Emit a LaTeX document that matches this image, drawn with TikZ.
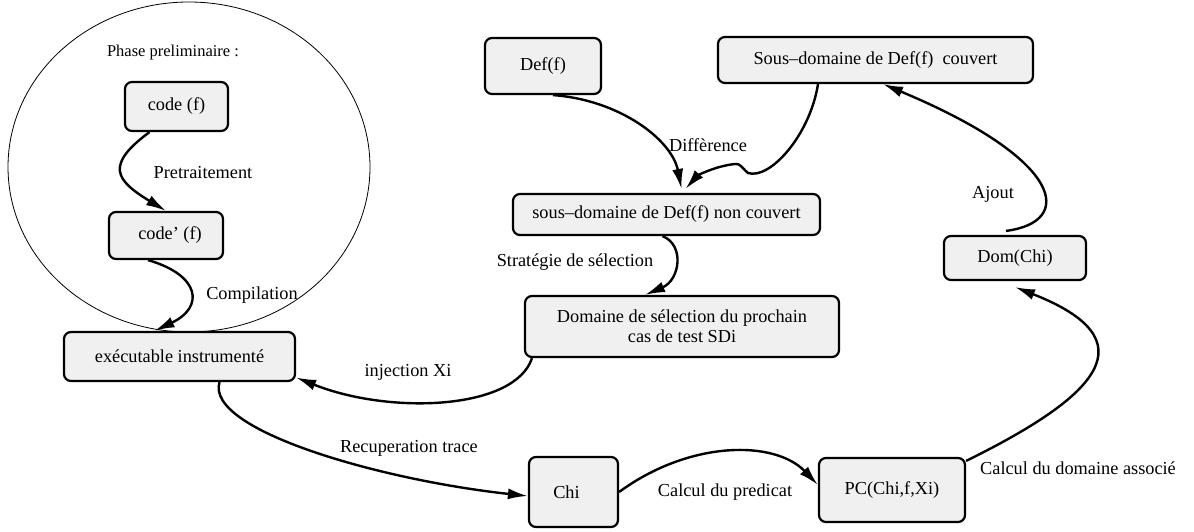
\documentclass[tikz,border=0pt]{standalone}
\usepackage{fontspec}
\setmainfont{Liberation Serif}
\usetikzlibrary{arrows.meta,shapes.geometric}
\definecolor{boxfill}{RGB}{240,240,240}
\newcommand{\mainsz}{\fontsize{18.3}{21}\selectfont}
\newcommand{\smallsz}{\fontsize{16.5}{19}\selectfont}
\tikzset{
  box/.style={draw, rounded corners=7pt, fill=boxfill, line width=2.2pt,
              font=\mainsz, inner sep=2pt, align=center},
  conn/.style={line width=2.4pt, -{Latex[length=20pt,width=11pt]}},
  lbl/.style={font=\mainsz, inner sep=0pt},
}
\begin{document}
\begin{tikzpicture}[x=1pt,y=-1pt]
\fill[white] (0,0) rectangle (1194,532);
\useasboundingbox (0,0) rectangle (1194,532);

% preliminary phase enclosure
\node[draw, ellipse, line width=0.8pt, minimum width=362pt, minimum height=330pt, inner sep=0pt] (phase) at (189,167) {};
\node[font=\smallsz, inner sep=0pt] (phaselbl) at (173,53) {Phase preliminaire :};

% boxes
\node[box, minimum width=103pt, minimum height=49pt] (code)  at (176.5,106.5) {code (f)};
\node[box, minimum width=114pt, minimum height=47pt] (codep) at (166,235.5) {\hspace*{8pt}code’ (f)};
\node[box, minimum width=231pt, minimum height=49pt] (exec)  at (179.5,356.5) {exécutable instrumenté};
\node[box, minimum width=116pt, minimum height=56pt] (def)   at (543,66) {Def(f)};
\node[box, minimum width=315pt, minimum height=46pt] (couv)  at (875.5,60) {Sous–domaine de Def(f)~ couvert};
\node[box, minimum width=307pt, minimum height=41pt] (nc)    at (666.5,214.5) {sous–domaine de Def(f) non couvert};
\node[box, minimum width=314pt, minimum height=61pt] (dsel)  at (682,326.5) {\raisebox{-6pt}{\shortstack{Domaine de sélection du prochain\\cas de test SDi}}};
\node[box, minimum width=142pt, minimum height=44pt] (dom)   at (1015,258) {Dom(Chi)};
\node[box, minimum width=89pt,  minimum height=70pt] (chi)   at (573.5,492) {Chi\hspace*{14pt}};
\node[box, minimum width=146pt, minimum height=64pt] (pc)    at (892,490) {PC(Chi,f,Xi)};

% connectors
\draw[conn] ([xshift=-27pt]code.south) .. controls (105,165) and (115,180) .. (codep.north);
\draw[conn] ([xshift=-18pt]codep.south) .. controls (200,275) and (205,307) .. ([xshift=-25pt]exec.north);
\draw[conn] ([xshift=40pt]exec.south) .. controls (205,430) and (380,480) .. ([yshift=-4pt]chi.west);
\draw[conn] ([xshift=-150pt]dsel.south) .. controls (515,410) and (390,415) .. ([yshift=-21pt]exec.east);
\draw[conn] ([xshift=-4pt]nc.south) .. controls (685,245) and (680,280) .. ([xshift=-37pt]dsel.north);
\draw[conn] ([xshift=10pt]def.south) .. controls (620,100) and (672,140) .. ([xshift=15pt,yshift=4pt]nc.north);
\draw[conn] ([xshift=-57.5pt]couv.south) .. controls (810,135) and (770,180) .. (748,173)
  .. controls (742,168) and (740,163) .. (735,164)
  .. controls (715,166) and (697,176) .. ([xshift=19pt,yshift=4pt]nc.north);
\draw[conn] ([xshift=-9pt,yshift=4pt]dom.north) .. controls (1075,222) and (1065,160) .. ([xshift=7.5pt]couv.south);
\draw[conn] ([yshift=-4pt]pc.north east) .. controls (1100,395) and (1150,340) .. ([yshift=-6pt]dom.south);
\draw[conn] (chi.east) .. controls (690,440) and (775,440) .. ([yshift=5pt]pc.west);

% connector labels
\node[lbl] (l1) at (203,173) {Pretraitement};
\node[lbl] (l2) at (252,295) {Compilation};
\node[lbl] (l3) at (708,145) {Diffèrence};
\node[lbl] (l4) at (575,262) {Stratégie de sélection};
\node[lbl] (l5) at (408,372) {injection Xi};
\node[lbl] (l6) at (409,448) {Recuperation trace};
\node[lbl] (l7) at (725,492) {Calcul du predicat};
\node[lbl] (l8) at (1078,468) {Calcul du domaine associé};
\node[lbl] (l9) at (993,194) {Ajout};
\end{tikzpicture}
\end{document}
